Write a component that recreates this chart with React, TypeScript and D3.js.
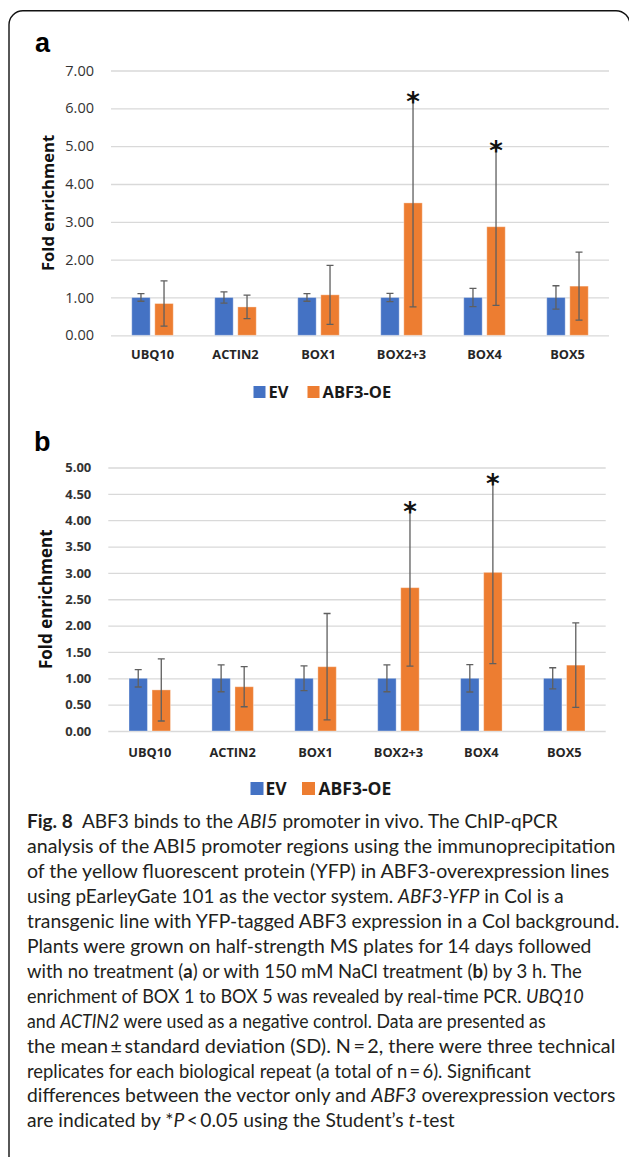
import React, { useEffect, useRef } from 'react';
import * as d3 from 'd3';

const categories = ['UBQ10', 'ACTIN2', 'BOX1', 'BOX2+3', 'BOX4', 'BOX5'];
const seriesNames = ['EV', 'ABF3-OE'];
const seriesColors = ['#4472c4', '#ed7d31'];

// panel a: no treatment
const evA = [1, 1, 1, 1, 1, 1];
const evErrA = [0.1, 0.15, 0.1, 0.11, 0.24, 0.31];
const oeA = [0.84, 0.75, 1.07, 3.5, 2.87, 1.3];
const oeErrA = [0.6, 0.31, 0.78, 2.75, 2.08, 0.9];
const starsA = ['BOX2+3', 'BOX4'];
const ticksA = [0, 1, 2, 3, 4, 5, 6, 7];

// panel b: 150 mM NaCl
const evB = [1, 1, 1, 1, 1, 1];
const evErrB = [0.165, 0.255, 0.235, 0.255, 0.26, 0.2];
const oeB = [0.78, 0.84, 1.22, 2.72, 3.01, 1.25];
const oeErrB = [0.59, 0.38, 1.01, 1.49, 1.73, 0.8];
const starsB = ['BOX2+3', 'BOX4'];
const ticksB = [0, 0.5, 1, 1.5, 2, 2.5, 3, 3.5, 4, 4.5, 5];

// caption lines: [style, text]
const caption = [
  [['b', 'Fig. 8'], ['n', '  ABF3 binds to the '], ['i', 'ABI5'], ['n', ' promoter in vivo. The ChIP-qPCR']],
  [['n', 'analysis of the ABI5 promoter regions using the immunoprecipitation']],
  [['n', 'of the yellow fluorescent protein (YFP) in ABF3-overexpression lines']],
  [['n', 'using pEarleyGate 101 as the vector system. '], ['i', 'ABF3-YFP'], ['n', ' in Col is a']],
  [['n', 'transgenic line with YFP-tagged ABF3 expression in a Col background.']],
  [['n', 'Plants were grown on half-strength MS plates for 14 days followed']],
  [['n', 'with no treatment ('], ['b', 'a'], ['n', ') or with 150 mM NaCl treatment ('], ['b', 'b'], ['n', ') by 3 h. The']],
  [['n', 'enrichment of BOX 1 to BOX 5 was revealed by real-time PCR. '], ['i', 'UBQ10']],
  [['n', 'and '], ['i', 'ACTIN2'], ['n', ' were used as a negative control. Data are presented as']],
  [['n', 'the mean\u2009\u00b1\u2009standard deviation (SD). N\u2009=\u20092, there were three technical']],
  [['n', 'replicates for each biological repeat (a total of n\u2009=\u20096). Significant']],
  [['n', 'differences between the vector only and '], ['i', 'ABF3'], ['n', ' overexpression vectors']],
  [['n', 'are indicated by *'], ['i', 'P'], ['n', '\u2009<\u20090.05 using the Student\u2019s '], ['i', 't'], ['n', '-test']],
];
const captionWidths = [531, 589, 583, 537, 593, 565, 555, 557, 519, 589, 504, 589, 428];

const font = '"Open Sans", "DejaVu Sans", sans-serif';

function drawPanel(svg, p) {
  const g = svg.append('g');
  const x0 = d3.scaleBand().domain(categories).range([p.left, p.right]);
  const x1 = d3.scaleBand().domain(seriesNames).range([-20.75, 20.75]).paddingInner(0.2);
  const y = d3.scaleLinear().domain([0, p.max]).range([p.bottom, p.top]);

  // gridlines + tick labels
  const ax = g.append('g')
    .attr('transform', `translate(${p.left},0)`)
    .call(d3.axisLeft(y).tickValues(p.ticks).tickFormat(d3.format('.2f'))
      .tickSizeInner(-(p.right - p.left)).tickSizeOuter(0).tickPadding(p.tickPad));
  ax.select('.domain').remove();
  ax.selectAll('line').attr('stroke', '#d9d9d9').attr('stroke-width', 1.3);
  ax.selectAll('text')
    .attr('font-family', font)
    .attr('font-size', p.tickSize)
    .attr('font-weight', p.tickWeight)
    .attr('fill', '#333');

  // category labels
  const bx = g.append('g')
    .attr('transform', `translate(0,${p.bottom})`)
    .call(d3.axisBottom(x0).tickSize(0));
  bx.select('.domain').remove();
  bx.selectAll('text')
    .attr('y', p.catBase - p.bottom)
    .attr('dy', null)
    .attr('font-family', font)
    .attr('font-size', 12.8)
    .attr('font-weight', 700)
    .attr('fill', '#262626');

  const rows = [];
  p.series.forEach((s, si) => {
    categories.forEach((c, ci) => {
      rows.push({ c, s: seriesNames[si], v: s.v[ci], e: s.e[ci], color: seriesColors[si] });
    });
  });

  g.append('g').selectAll('rect').data(rows).join('rect')
    .attr('x', d => x0(d.c) + x0.bandwidth() / 2 + x1(d.s))
    .attr('width', x1.bandwidth())
    .attr('y', d => y(d.v))
    .attr('height', d => y(0) - y(d.v))
    .attr('fill', d => d.color)
    .attr('stroke', '#fff')
    .attr('stroke-opacity', 0.35)
    .attr('stroke-width', 1);

  const eb = g.append('g').attr('stroke', '#5f5f5f').attr('stroke-width', 1.3).attr('fill', 'none');
  const cx = d => x0(d.c) + x0.bandwidth() / 2 + x1(d.s) + x1.bandwidth() / 2;
  eb.selectAll('path').data(rows).join('path')
    .attr('d', d => {
      const xt = cx(d), yt = y(d.v + d.e), yb = y(d.v - d.e);
      return `M${xt},${yt}V${yb}M${xt - 3.5},${yt}H${xt + 3.5}M${xt - 3.5},${yb}H${xt + 3.5}`;
    });

  // significance stars
  const starRows = rows.filter(d => d.s === seriesNames[1] && p.stars.includes(d.c));
  g.append('g').selectAll('text').data(starRows).join('text')
    .attr('x', d => cx(d))
    .attr('y', d => y(d.v + d.e) + p.starDy)
    .attr('text-anchor', 'middle')
    .attr('font-family', '"DejaVu Sans", sans-serif')
    .attr('font-size', p.starSize)
    .attr('font-weight', 700)
    .attr('fill', '#111')
    .text('*');

  // y title
  g.append('text')
    .attr('transform', `translate(${p.titleX},${(p.top + p.bottom) / 2}) rotate(-90)`)
    .attr('text-anchor', 'middle')
    .attr('font-family', font)
    .attr('font-size', p.titleSize)
    .attr('font-weight', 700)
    .attr('fill', '#111')
    .text('Fold enrichment');

  // panel letter
  g.append('text')
    .attr('x', p.letterX).attr('y', p.letterY)
    .attr('font-family', '"Liberation Sans", Arial, sans-serif')
    .attr('font-size', 27)
    .attr('font-weight', 700)
    .attr('fill', '#000')
    .text(p.letter);

  // legend
  const lg = g.append('g');
  p.legend.forEach((L, i) => {
    lg.append('rect').attr('x', L.sx).attr('y', p.legY - p.legSq).attr('width', p.legSq).attr('height', p.legSq)
      .attr('fill', seriesColors[i]);
    lg.append('text').attr('x', L.tx).attr('y', p.legY)
      .attr('font-family', font).attr('font-size', p.legFont).attr('font-weight', 700).attr('fill', '#1a1a1a')
      .text(seriesNames[i]);
  });
}

export default function App() {
  const ref = useRef(null);

  useEffect(() => {
    const svg = d3.select(ref.current);
    svg.selectAll('*').remove();

    svg.append('path')
      .attr('d', 'M9,1160V25A14,14 0 0 1 23,10.7H616A14,14 0 0 1 630,24.7V1160')
      .attr('fill', 'none').attr('stroke', '#111').attr('stroke-width', 1.4);

    drawPanel(svg, {
      left: 111, right: 609, top: 70.5, bottom: 335.3, max: 7, ticks: ticksA,
      tickSize: 14.5, tickWeight: 400, tickPad: 17,
      catBase: 359,
      series: [{ v: evA, e: evErrA }, { v: oeA, e: oeErrA }],
      stars: starsA, starDy: 12, starSize: 26,
      titleX: 53.5, titleSize: 16.6,
      letter: 'a', letterX: 35, letterY: 52,
      legY: 398, legSq: 12, legFont: 16.5,
      legend: [{ sx: 253.5, tx: 268.5 }, { sx: 307.5, tx: 322.5 }],
    });

    drawPanel(svg, {
      left: 108.3, right: 605.7, top: 467.5, bottom: 731, max: 5, ticks: ticksB,
      tickSize: 13, tickWeight: 700, tickPad: 17,
      catBase: 757,
      series: [{ v: evB, e: evErrB }, { v: oeB, e: oeErrB }],
      stars: starsB, starDy: 12, starSize: 26,
      titleX: 52, titleSize: 17,
      letter: 'b', letterX: 34, letterY: 451,
      legY: 795, legSq: 13, legFont: 17.5,
      legend: [{ sx: 250.5, tx: 265.5 }, { sx: 302, tx: 318.5 }],
    });

    // caption: each line scaled horizontally to the width it has in the figure
    const cap = svg.append('g')
      .attr('font-family', '"Lato", "Open Sans", sans-serif')
      .attr('font-size', 19)
      .attr('fill', '#231f20');
    caption.forEach((line, i) => {
      const t = cap.append('text')
        .attr('x', 0)
        .attr('y', 0)
        .style('white-space', 'pre');
      line.forEach(([st, txt]) => {
        t.append('tspan')
          .attr('font-weight', st === 'b' ? 700 : 400)
          .attr('font-style', st === 'i' ? 'italic' : 'normal')
          .text(txt);
      });
      const w = t.node().getComputedTextLength() || captionWidths[i];
      const k = captionWidths[i] / w;
      t.attr('transform', `translate(27,${828 + i * 24.95}) scale(${k},1)`);
    });
  }, []);

  return (
    <svg ref={ref} width={629} height={1157}
      style={{ position: 'absolute', left: 0, top: 0, display: 'block', background: '#fff' }} />
  );
}
